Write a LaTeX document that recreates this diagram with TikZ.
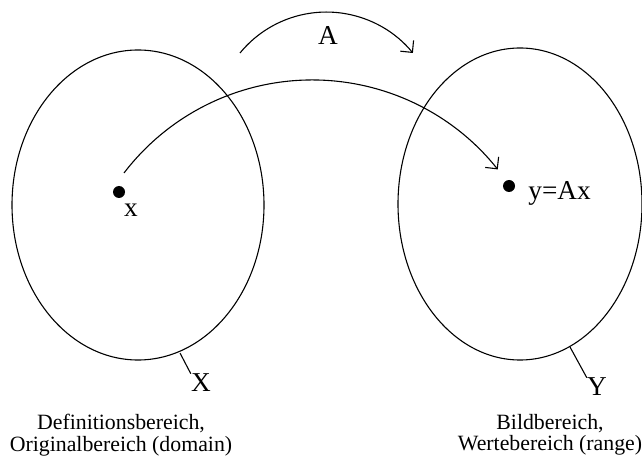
\documentclass[tikz,border=0pt]{standalone}
\usepackage{fontspec}
\setmainfont{Liberation Serif}
\usetikzlibrary{arrows.meta, calc}

\tikzset{
    setline/.style={line width=0.6pt},
    maparrow/.style={line width=0.6pt, -{Straight Barb[length=4.7pt, width=9.4pt]}},
    lbl/.style={inner sep=0pt, font=\fontsize{15}{18}\selectfont},
    caption/.style={align=center, inner sep=0pt, font=\fontsize{12}{11.8}\selectfont},
    pt/.style={circle, fill=black, inner sep=0pt, minimum size=6.6pt}
}

\begin{document}
\begin{tikzpicture}[x=0.55pt, y=0.55pt]
    \useasboundingbox (0,0) rectangle (642,473);

    % ==========================================
    % DOMAIN X (Left Side)
    % ==========================================
    \begin{scope}[shift={(138,268)}]
        \draw[setline] (0,0) ellipse [x radius=126, y radius=155];
        \node[pt] (ptx) at (-19,13) {};
        \node[lbl] (lblx) at (-7,-5) {x};
        \coordinate (onX) at (42,-148);
        \node[lbl] (lblX) at (63,-178) {X};
        \draw[setline] (onX) -- (lblX.north west);
        \node[caption] (capX) at (-17,-230) {Definitionsbereich,\\Originalbereich (domain)};
    \end{scope}

    % ==========================================
    % RANGE Y (Right Side)
    % ==========================================
    \begin{scope}[shift={(520,269)}]
        \draw[setline] (0,0) ellipse [x radius=122, y radius=156];
        \node[pt] (pty) at (-11,18) {};
        \node[lbl, anchor=west] (lbly) at (8,11) {y=Ax};
        \coordinate (onY) at (50,-143);
        \node[lbl] (lblY) at (77,-183) {Y};
        \draw[setline] (onY) -- (lblY.north west);
        \node[caption] (capY) at (30,-231) {Bildbereich,\\Wertebereich (range)};
    \end{scope}

    % ==========================================
    % MAPPING A
    % ==========================================
    % Operator arc above
    \coordinate (opstart) at (240,420);
    \draw[maparrow] (opstart) arc [start angle=140.7, end angle=39.3, radius=111.7];
    \node[lbl] (lblA) at (328,437) {A};

    % Point x mapped onto y=Ax
    \coordinate (mapstart) at ($(ptx)+(5,19)$);
    \draw[maparrow] (mapstart) arc [start angle=142.6, end angle=38.5, radius=237];
\end{tikzpicture}
\end{document}
